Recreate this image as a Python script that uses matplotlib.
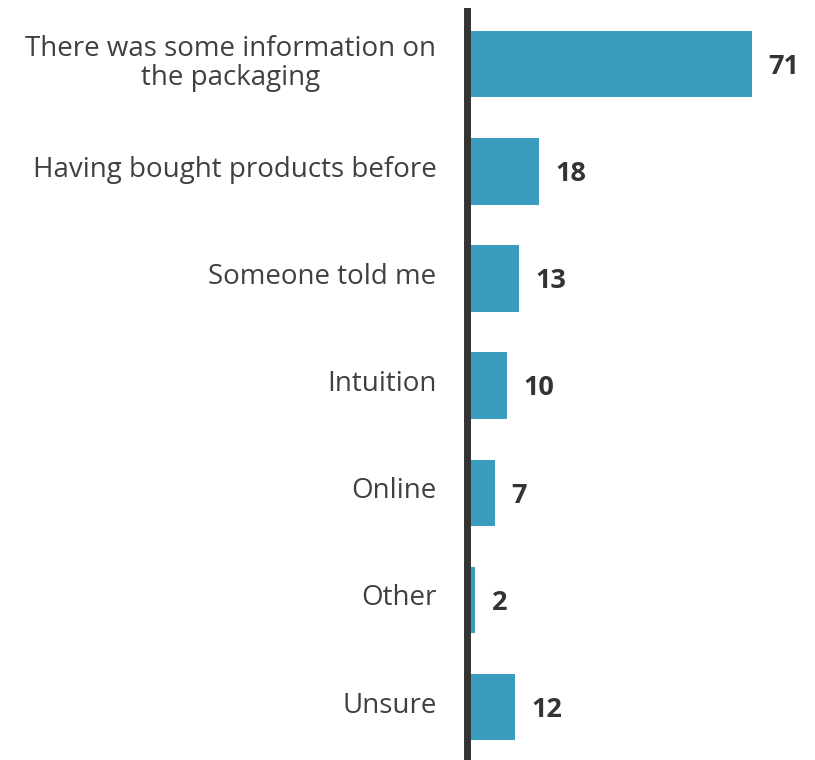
import matplotlib.pyplot as plt
from matplotlib.transforms import ScaledTranslation

categories = [
    "There was some information on\nthe packaging",
    "Having bought products before",
    "Someone told me",
    "Intuition",
    "Online",
    "Other",
    "Unsure",
]
values = [71, 18, 13, 10, 7, 2, 12]

BAR_COLOR = "#3a9cbf"
TEXT_COLOR = "#333333"

plt.rcParams["font.family"] = ["Open Sans", "DejaVu Sans"]

fig = plt.figure(figsize=(8.15, 7.6), dpi=100)
ax = fig.add_axes([467 / 815, -0.6 / 760, 348 / 815, 750 / 760])

ypos = list(range(len(categories)))
ax.barh(ypos, values, height=0.62, color=BAR_COLOR, zorder=2)

for y, v in zip(ypos, values):
    ax.annotate(str(v), xy=(v, y), xytext=(12, -2), textcoords="offset points",
                ha="left", va="center", fontsize=19.5, fontweight="bold",
                color=TEXT_COLOR)

ax.set_yticks(ypos)
ax.set_yticklabels(categories, fontsize=20, color="#404040",
                   multialignment="center", linespacing=1.05)
ax.tick_params(axis="y", length=0, pad=22)
# nudge category labels up slightly
shift = ScaledTranslation(0, 5 / 100, fig.dpi_scale_trans)
for lbl in ax.get_yticklabels():
    lbl.set_transform(lbl.get_transform() + shift)
ax.set_xticks([])
ax.set_ylim(len(categories) - 0.5, -0.5)
ax.set_xlim(0, 348 / 4.01)

for side in ["top", "right", "bottom"]:
    ax.spines[side].set_visible(False)
ax.spines["left"].set_linewidth(5)
ax.spines["left"].set_color(TEXT_COLOR)
ax.spines["left"].set_zorder(3)

fig.savefig("out.png", dpi=100)
